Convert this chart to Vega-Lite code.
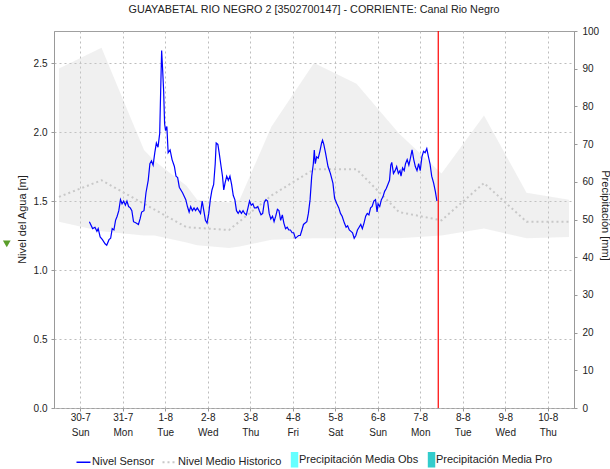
{
  "$schema": "https://vega.github.io/schema/vega-lite/v6.json",
  "width": 520,
  "height": 377,
  "autosize": {"type": "none"},
  "padding": {"left": 54, "top": 31, "right": 36, "bottom": 61},
  "background": "white",
  "config": {
    "view": {"stroke": "#a0a0a0", "strokeWidth": 1},
    "font": "Liberation Sans, Arial, sans-serif",
    "axis": {
      "labelFont": "Liberation Sans, Arial, sans-serif",
      "labelFontSize": 10,
      "labelColor": "#222222",
      "titleFont": "Liberation Sans, Arial, sans-serif",
      "titleFontSize": 11,
      "titleFontWeight": "normal",
      "titleColor": "#222222",
      "domainColor": "#999999",
      "tickColor": "#999999",
      "gridColor": "#bdbdbd",
      "gridDash": [2, 3]
    },
    "legend": {
      "orient": "none",
      "legendX": 24,
      "legendY": 423,
      "direction": "horizontal",
      "labelFont": "Liberation Sans, Arial, sans-serif",
      "labelFontSize": 11,
      "labelColor": "#222222",
      "symbolSize": 196,
      "columnPadding": 3,
      "labelOffset": 3
    }
  },
  "title": {
    "text": "GUAYABETAL RIO NEGRO 2 [3502700147] - CORRIENTE: Canal Rio Negro",
    "font": "Liberation Sans, Arial, sans-serif",
    "fontSize": 10.8,
    "fontWeight": "normal",
    "color": "#222222",
    "anchor": "middle",
    "frame": "group",
    "offset": 11
  },
  "datasets": {
    "banda": [
      {"t": "2017-07-29T12:00", "lo": 1.35, "hi": 2.46},
      {"t": "2017-07-30T12:00", "lo": 1.28, "hi": 2.61},
      {"t": "2017-07-31T12:00", "lo": 1.25, "hi": 1.87},
      {"t": "2017-07-31T18:00", "lo": 1.25, "hi": 1.79},
      {"t": "2017-08-01T12:00", "lo": 1.20, "hi": 1.61},
      {"t": "2017-08-01T18:00", "lo": 1.18, "hi": 1.51},
      {"t": "2017-08-02T12:00", "lo": 1.16, "hi": 1.49},
      {"t": "2017-08-02T18:00", "lo": 1.17, "hi": 1.51},
      {"t": "2017-08-03T12:00", "lo": 1.22, "hi": 2.04},
      {"t": "2017-08-04T12:00", "lo": 1.23, "hi": 2.50},
      {"t": "2017-08-05T12:00", "lo": 1.23, "hi": 2.35},
      {"t": "2017-08-06T12:00", "lo": 1.23, "hi": 1.99},
      {"t": "2017-08-07T12:00", "lo": 1.25, "hi": 1.70},
      {"t": "2017-08-08T12:00", "lo": 1.30, "hi": 2.12},
      {"t": "2017-08-09T12:00", "lo": 1.23, "hi": 1.56},
      {"t": "2017-08-10T12:00", "lo": 1.24, "hi": 1.51}
    ],
    "medio": [
      {"t": "2017-07-29T12:00", "v": 1.53},
      {"t": "2017-07-30T12:00", "v": 1.65},
      {"t": "2017-07-31T12:00", "v": 1.48},
      {"t": "2017-08-01T12:00", "v": 1.31},
      {"t": "2017-08-02T12:00", "v": 1.29},
      {"t": "2017-08-03T12:00", "v": 1.54},
      {"t": "2017-08-04T12:00", "v": 1.73},
      {"t": "2017-08-05T12:00", "v": 1.73},
      {"t": "2017-08-06T12:00", "v": 1.42},
      {"t": "2017-08-07T12:00", "v": 1.36},
      {"t": "2017-08-08T12:00", "v": 1.63},
      {"t": "2017-08-09T12:00", "v": 1.35},
      {"t": "2017-08-10T12:00", "v": 1.35}
    ],
    "sensor": [
      {"t": "2017-07-30T05:09", "v": 1.35}, {"t": "2017-07-30T07:00", "v": 1.30}, {"t": "2017-07-30T08:19", "v": 1.31}, {"t": "2017-07-30T09:25", "v": 1.28},
      {"t": "2017-07-30T10:08", "v": 1.30}, {"t": "2017-07-30T11:14", "v": 1.24}, {"t": "2017-07-30T12:31", "v": 1.22}, {"t": "2017-07-30T14:01", "v": 1.19},
      {"t": "2017-07-30T14:57", "v": 1.18}, {"t": "2017-07-30T16:14", "v": 1.22}, {"t": "2017-07-30T17:10", "v": 1.23}, {"t": "2017-07-30T18:03", "v": 1.30},
      {"t": "2017-07-30T19:00", "v": 1.29}, {"t": "2017-07-30T19:56", "v": 1.36}, {"t": "2017-07-30T20:50", "v": 1.39}, {"t": "2017-07-30T21:46", "v": 1.43},
      {"t": "2017-07-30T22:43", "v": 1.51}, {"t": "2017-07-30T23:36", "v": 1.48},
      {"t": "2017-07-31T00:32", "v": 1.50}, {"t": "2017-07-31T01:29", "v": 1.47}, {"t": "2017-07-31T02:22", "v": 1.50}, {"t": "2017-07-31T03:18", "v": 1.46},
      {"t": "2017-07-31T04:15", "v": 1.45}, {"t": "2017-07-31T05:08", "v": 1.43}, {"t": "2017-07-31T06:05", "v": 1.35}, {"t": "2017-07-31T07:34", "v": 1.34},
      {"t": "2017-07-31T08:51", "v": 1.33}, {"t": "2017-07-31T09:47", "v": 1.37}, {"t": "2017-07-31T10:40", "v": 1.42}, {"t": "2017-07-31T12:00", "v": 1.43},
      {"t": "2017-07-31T13:07", "v": 1.56}, {"t": "2017-07-31T14:23", "v": 1.65}, {"t": "2017-07-31T15:20", "v": 1.77}, {"t": "2017-07-31T16:13", "v": 1.79},
      {"t": "2017-07-31T17:09", "v": 1.76}, {"t": "2017-07-31T18:06", "v": 1.85}, {"t": "2017-07-31T18:59", "v": 1.92}, {"t": "2017-07-31T19:55", "v": 1.89},
      {"t": "2017-07-31T20:52", "v": 1.99}, {"t": "2017-07-31T21:25", "v": 2.30}, {"t": "2017-07-31T21:58", "v": 2.59}, {"t": "2017-07-31T22:32", "v": 2.45},
      {"t": "2017-07-31T23:05", "v": 2.30}, {"t": "2017-07-31T23:38", "v": 2.06},
      {"t": "2017-08-01T00:11", "v": 2.01}, {"t": "2017-08-01T00:55", "v": 2.04}, {"t": "2017-08-01T01:38", "v": 1.85}, {"t": "2017-08-01T02:44", "v": 1.87},
      {"t": "2017-08-01T03:51", "v": 1.80}, {"t": "2017-08-01T05:10", "v": 1.75}, {"t": "2017-08-01T06:04", "v": 1.68}, {"t": "2017-08-01T07:00", "v": 1.67},
      {"t": "2017-08-01T07:56", "v": 1.60}, {"t": "2017-08-01T09:46", "v": 1.56}, {"t": "2017-08-01T11:36", "v": 1.51}, {"t": "2017-08-01T12:32", "v": 1.46},
      {"t": "2017-08-01T13:29", "v": 1.42}, {"t": "2017-08-01T14:22", "v": 1.46}, {"t": "2017-08-01T15:19", "v": 1.43}, {"t": "2017-08-01T16:15", "v": 1.45},
      {"t": "2017-08-01T17:08", "v": 1.43}, {"t": "2017-08-01T18:05", "v": 1.45}, {"t": "2017-08-01T19:01", "v": 1.43}, {"t": "2017-08-01T19:55", "v": 1.41},
      {"t": "2017-08-01T20:51", "v": 1.50}, {"t": "2017-08-01T21:47", "v": 1.43}, {"t": "2017-08-01T22:41", "v": 1.36}, {"t": "2017-08-01T23:37", "v": 1.34},
      {"t": "2017-08-02T00:34", "v": 1.41}, {"t": "2017-08-02T01:27", "v": 1.51}, {"t": "2017-08-02T02:23", "v": 1.58}, {"t": "2017-08-02T03:20", "v": 1.62},
      {"t": "2017-08-02T04:13", "v": 1.77}, {"t": "2017-08-02T04:46", "v": 1.92}, {"t": "2017-08-02T05:43", "v": 1.91}, {"t": "2017-08-02T06:26", "v": 1.85},
      {"t": "2017-08-02T07:32", "v": 1.75}, {"t": "2017-08-02T08:19", "v": 1.68}, {"t": "2017-08-02T09:02", "v": 1.58}, {"t": "2017-08-02T09:46", "v": 1.63},
      {"t": "2017-08-02T10:42", "v": 1.68}, {"t": "2017-08-02T11:38", "v": 1.65}, {"t": "2017-08-02T12:32", "v": 1.68}, {"t": "2017-08-02T13:28", "v": 1.62},
      {"t": "2017-08-02T14:25", "v": 1.54}, {"t": "2017-08-02T15:18", "v": 1.51}, {"t": "2017-08-02T16:14", "v": 1.43}, {"t": "2017-08-02T17:11", "v": 1.41},
      {"t": "2017-08-02T18:04", "v": 1.43}, {"t": "2017-08-02T19:01", "v": 1.41}, {"t": "2017-08-02T19:57", "v": 1.43}, {"t": "2017-08-02T20:50", "v": 1.41},
      {"t": "2017-08-02T21:47", "v": 1.40}, {"t": "2017-08-02T22:43", "v": 1.45}, {"t": "2017-08-02T23:36", "v": 1.50},
      {"t": "2017-08-03T00:33", "v": 1.47}, {"t": "2017-08-03T01:29", "v": 1.48}, {"t": "2017-08-03T02:22", "v": 1.45}, {"t": "2017-08-03T03:19", "v": 1.45},
      {"t": "2017-08-03T04:16", "v": 1.46}, {"t": "2017-08-03T05:08", "v": 1.43}, {"t": "2017-08-03T06:05", "v": 1.40}, {"t": "2017-08-03T07:02", "v": 1.41},
      {"t": "2017-08-03T07:55", "v": 1.49}, {"t": "2017-08-03T08:52", "v": 1.51}, {"t": "2017-08-03T09:48", "v": 1.50}, {"t": "2017-08-03T10:41", "v": 1.41},
      {"t": "2017-08-03T11:37", "v": 1.37}, {"t": "2017-08-03T12:34", "v": 1.39}, {"t": "2017-08-03T13:27", "v": 1.35}, {"t": "2017-08-03T14:23", "v": 1.39},
      {"t": "2017-08-03T15:20", "v": 1.44}, {"t": "2017-08-03T16:13", "v": 1.43}, {"t": "2017-08-03T17:10", "v": 1.36}, {"t": "2017-08-03T18:07", "v": 1.40},
      {"t": "2017-08-03T18:59", "v": 1.34}, {"t": "2017-08-03T19:56", "v": 1.30}, {"t": "2017-08-03T20:52", "v": 1.31}, {"t": "2017-08-03T21:46", "v": 1.29},
      {"t": "2017-08-03T22:42", "v": 1.29}, {"t": "2017-08-03T23:38", "v": 1.27},
      {"t": "2017-08-04T00:32", "v": 1.27}, {"t": "2017-08-04T01:28", "v": 1.23}, {"t": "2017-08-04T02:25", "v": 1.24}, {"t": "2017-08-04T03:18", "v": 1.25},
      {"t": "2017-08-04T04:14", "v": 1.25}, {"t": "2017-08-04T05:11", "v": 1.29}, {"t": "2017-08-04T06:04", "v": 1.33}, {"t": "2017-08-04T07:01", "v": 1.34},
      {"t": "2017-08-04T07:57", "v": 1.35}, {"t": "2017-08-04T08:50", "v": 1.41}, {"t": "2017-08-04T09:47", "v": 1.51}, {"t": "2017-08-04T10:43", "v": 1.68},
      {"t": "2017-08-04T11:37", "v": 1.77}, {"t": "2017-08-04T12:10", "v": 1.87}, {"t": "2017-08-04T12:43", "v": 1.77}, {"t": "2017-08-04T13:29", "v": 1.82},
      {"t": "2017-08-04T14:23", "v": 1.81}, {"t": "2017-08-04T15:19", "v": 1.86}, {"t": "2017-08-04T16:16", "v": 1.92}, {"t": "2017-08-04T16:49", "v": 1.94},
      {"t": "2017-08-04T17:32", "v": 1.91}, {"t": "2017-08-04T18:29", "v": 1.85}, {"t": "2017-08-04T19:55", "v": 1.75}, {"t": "2017-08-04T21:15", "v": 1.70},
      {"t": "2017-08-04T22:41", "v": 1.63}, {"t": "2017-08-04T23:38", "v": 1.52},
      {"t": "2017-08-05T00:54", "v": 1.48}, {"t": "2017-08-05T02:01", "v": 1.45}, {"t": "2017-08-05T02:57", "v": 1.41}, {"t": "2017-08-05T03:53", "v": 1.39},
      {"t": "2017-08-05T05:10", "v": 1.34}, {"t": "2017-08-05T06:07", "v": 1.31}, {"t": "2017-08-05T06:59", "v": 1.32}, {"t": "2017-08-05T07:56", "v": 1.29},
      {"t": "2017-08-05T08:53", "v": 1.28}, {"t": "2017-08-05T09:46", "v": 1.27}, {"t": "2017-08-05T10:42", "v": 1.23}, {"t": "2017-08-05T11:38", "v": 1.25},
      {"t": "2017-08-05T12:32", "v": 1.29}, {"t": "2017-08-05T13:28", "v": 1.31}, {"t": "2017-08-05T14:25", "v": 1.33}, {"t": "2017-08-05T15:18", "v": 1.30},
      {"t": "2017-08-05T16:14", "v": 1.34}, {"t": "2017-08-05T17:11", "v": 1.39}, {"t": "2017-08-05T18:04", "v": 1.41}, {"t": "2017-08-05T19:01", "v": 1.40},
      {"t": "2017-08-05T19:57", "v": 1.45}, {"t": "2017-08-05T20:50", "v": 1.46}, {"t": "2017-08-05T21:47", "v": 1.50}, {"t": "2017-08-05T22:44", "v": 1.51},
      {"t": "2017-08-05T23:37", "v": 1.42},
      {"t": "2017-08-06T00:10", "v": 1.48}, {"t": "2017-08-06T01:07", "v": 1.46}, {"t": "2017-08-06T02:03", "v": 1.51}, {"t": "2017-08-06T02:56", "v": 1.53},
      {"t": "2017-08-06T03:53", "v": 1.57}, {"t": "2017-08-06T04:49", "v": 1.59}, {"t": "2017-08-06T05:43", "v": 1.62}, {"t": "2017-08-06T06:39", "v": 1.65},
      {"t": "2017-08-06T07:22", "v": 1.76}, {"t": "2017-08-06T07:55", "v": 1.78}, {"t": "2017-08-06T08:52", "v": 1.70}, {"t": "2017-08-06T09:48", "v": 1.72},
      {"t": "2017-08-06T10:41", "v": 1.75}, {"t": "2017-08-06T11:38", "v": 1.70}, {"t": "2017-08-06T12:34", "v": 1.72}, {"t": "2017-08-06T13:08", "v": 1.68},
      {"t": "2017-08-06T14:01", "v": 1.74}, {"t": "2017-08-06T14:57", "v": 1.72}, {"t": "2017-08-06T15:41", "v": 1.77}, {"t": "2017-08-06T16:37", "v": 1.80},
      {"t": "2017-08-06T17:34", "v": 1.76}, {"t": "2017-08-06T18:27", "v": 1.81}, {"t": "2017-08-06T19:23", "v": 1.87}, {"t": "2017-08-06T20:20", "v": 1.80},
      {"t": "2017-08-06T21:13", "v": 1.75}, {"t": "2017-08-06T22:10", "v": 1.72}, {"t": "2017-08-06T23:06", "v": 1.77}, {"t": "2017-08-06T23:59", "v": 1.72},
      {"t": "2017-08-07T00:56", "v": 1.82}, {"t": "2017-08-07T01:52", "v": 1.86}, {"t": "2017-08-07T02:45", "v": 1.85}, {"t": "2017-08-07T03:42", "v": 1.88},
      {"t": "2017-08-07T04:38", "v": 1.82}, {"t": "2017-08-07T05:31", "v": 1.77}, {"t": "2017-08-07T06:28", "v": 1.68}, {"t": "2017-08-07T07:34", "v": 1.63},
      {"t": "2017-08-07T08:31", "v": 1.57}, {"t": "2017-08-07T09:24", "v": 1.50}
    ],
    "precip": [
      {"t": "2017-07-30T12:00", "mm": 0, "serie": "Precipitación Media Obs"},
      {"t": "2017-07-31T12:00", "mm": 0, "serie": "Precipitación Media Obs"},
      {"t": "2017-08-01T12:00", "mm": 0, "serie": "Precipitación Media Obs"},
      {"t": "2017-08-02T12:00", "mm": 0, "serie": "Precipitación Media Obs"},
      {"t": "2017-08-03T12:00", "mm": 0, "serie": "Precipitación Media Obs"},
      {"t": "2017-08-04T12:00", "mm": 0, "serie": "Precipitación Media Obs"},
      {"t": "2017-08-05T12:00", "mm": 0, "serie": "Precipitación Media Obs"},
      {"t": "2017-08-06T12:00", "mm": 0, "serie": "Precipitación Media Obs"},
      {"t": "2017-08-07T12:00", "mm": 0, "serie": "Precipitación Media Obs"},
      {"t": "2017-08-08T12:00", "mm": 0, "serie": "Precipitación Media Pro"},
      {"t": "2017-08-09T12:00", "mm": 0, "serie": "Precipitación Media Pro"},
      {"t": "2017-08-10T12:00", "mm": 0, "serie": "Precipitación Media Pro"}
    ],
    "ahora": [{"t": "2017-08-07T10:10"}],
    "marcador": [{"t": "2017-07-28T06:30", "v": 1.19}]
  },
  "layer": [
    {
      "layer": [
        {
          "data": {"name": "banda"},
          "mark": {"type": "area", "color": "#cccccc", "opacity": 0.3},
          "encoding": {
            "x": {
              "field": "t", "type": "temporal", "title": null,
              "scale": {"domain": [{"year": 2017, "month": 7, "date": 29, "hours": 12}, {"year": 2017, "month": 8, "date": 10, "hours": 12}]},
              "axis": {
                "values": [
                  {"year": 2017, "month": 7, "date": 30}, {"year": 2017, "month": 7, "date": 31},
                  {"year": 2017, "month": 8, "date": 1}, {"year": 2017, "month": 8, "date": 2},
                  {"year": 2017, "month": 8, "date": 3}, {"year": 2017, "month": 8, "date": 4},
                  {"year": 2017, "month": 8, "date": 5}, {"year": 2017, "month": 8, "date": 6},
                  {"year": 2017, "month": 8, "date": 7}, {"year": 2017, "month": 8, "date": 8},
                  {"year": 2017, "month": 8, "date": 9}, {"year": 2017, "month": 8, "date": 10}
                ],
                "labelExpr": "[timeFormat(datum.value, '%-d-%-m'), timeFormat(datum.value, '%a')]",
                "grid": true,
                "domain": false,
                "tickSize": 3,
                "labelPadding": 1,
                "labelLineHeight": 15,
                "labelFlush": false,
                "labelOverlap": false
              }
            },
            "y": {
              "field": "lo", "type": "quantitative", "title": "Nivel del Agua [m]",
              "scale": {"domain": [0, 2.732], "nice": false, "zero": false},
              "axis": {
                "values": [0, 0.5, 1, 1.5, 2, 2.5],
                "format": ".1f",
                "grid": true,
                "tickSize": 3,
                "labelPadding": 4,
                "titleX": -32,
                "titleY": 188,
                "titleAngle": -90,
                "titleAlign": "center",
                "titleBaseline": "middle"
              }
            },
            "y2": {"field": "hi"}
          }
        },
        {
          "data": {"name": "medio"},
          "mark": {"type": "line", "strokeWidth": 2, "strokeDash": [2, 3]},
          "encoding": {
            "x": {"field": "t", "type": "temporal", "title": null},
            "y": {"field": "v", "type": "quantitative", "title": "Nivel del Agua [m]"},
            "color": {"datum": "Nivel Medio Historico", "type": "nominal", "title": null}
          }
        },
        {
          "data": {"name": "sensor"},
          "mark": {"type": "line", "strokeWidth": 1.2},
          "encoding": {
            "x": {"field": "t", "type": "temporal", "title": null},
            "y": {"field": "v", "type": "quantitative", "title": "Nivel del Agua [m]"},
            "color": {
              "datum": "Nivel Sensor", "type": "nominal", "title": null,
              "scale": {
                "domain": ["Nivel Sensor", "Nivel Medio Historico", "Precipitación Media Obs", "Precipitación Media Pro"],
                "range": ["#0000ff", "#c8c8c8", "#66ffff", "#33cccc"]
              },
              "legend": {
                "title": null,
                "encode": {
                  "symbols": {
                    "update": {
                      "shape": {"signal": "datum.value === 'Nivel Sensor' || datum.value === 'Nivel Medio Historico' ? 'stroke' : 'M0.15,-1H1V1H0.15Z'"},
                      "fill": {"signal": "datum.value === 'Precipitación Media Obs' ? '#66ffff' : datum.value === 'Precipitación Media Pro' ? '#33cccc' : 'transparent'"},
                      "stroke": {"signal": "datum.value === 'Nivel Sensor' ? '#0000ff' : datum.value === 'Nivel Medio Historico' ? '#c8c8c8' : 'transparent'"},
                      "strokeDash": {"signal": "datum.value === 'Nivel Medio Historico' ? [2, 3] : null"},
                      "strokeWidth": {"signal": "datum.value === 'Nivel Medio Historico' ? 2 : 1.5"},
                      "opacity": {"value": 1},
                      "fillOpacity": {"value": 1},
                      "strokeOpacity": {"value": 1}
                    }
                  }
                }
              }
            }
          }
        },
        {
          "data": {"name": "ahora"},
          "mark": {"type": "rule", "color": "#ff0000", "strokeWidth": 1.2},
          "encoding": {"x": {"field": "t", "type": "temporal", "title": null}}
        },
        {
          "data": {"name": "marcador"},
          "mark": {"type": "point", "shape": "triangle-down", "filled": true, "color": "#5a9e2a", "size": 60, "opacity": 1, "clip": false},
          "encoding": {
            "x": {"field": "t", "type": "temporal", "title": null},
            "y": {"field": "v", "type": "quantitative", "title": "Nivel del Agua [m]"}
          }
        }
      ]
    },
    {
      "data": {"name": "precip"},
      "mark": {"type": "bar", "width": 6},
      "encoding": {
        "x": {"field": "t", "type": "temporal", "title": null},
        "y": {
          "field": "mm", "type": "quantitative", "title": "Precipitación [mm]",
          "scale": {"domain": [0, 100], "nice": false},
          "axis": {
            "orient": "right",
            "values": [0, 10, 20, 30, 40, 50, 60, 70, 80, 90, 100],
            "grid": false,
            "tickSize": 3,
            "labelPadding": 5,
            "titleX": 30,
            "titleY": 184,
            "titleAngle": 90,
            "titleAlign": "center",
            "titleBaseline": "middle"
          }
        },
        "color": {
          "field": "serie", "type": "nominal", "title": null,
          "legend": {
            "title": null,
            "encode": {
              "symbols": {
                "update": {
                  "shape": {"signal": "datum.value === 'Nivel Sensor' || datum.value === 'Nivel Medio Historico' ? 'stroke' : 'M0.15,-1H1V1H0.15Z'"},
                  "fill": {"signal": "datum.value === 'Precipitación Media Obs' ? '#66ffff' : datum.value === 'Precipitación Media Pro' ? '#33cccc' : 'transparent'"},
                  "stroke": {"signal": "datum.value === 'Nivel Sensor' ? '#0000ff' : datum.value === 'Nivel Medio Historico' ? '#c8c8c8' : 'transparent'"},
                  "strokeDash": {"signal": "datum.value === 'Nivel Medio Historico' ? [2, 3] : null"},
                  "strokeWidth": {"signal": "datum.value === 'Nivel Medio Historico' ? 2 : 1.5"},
                  "opacity": {"value": 1},
                  "fillOpacity": {"value": 1},
                  "strokeOpacity": {"value": 1}
                }
              }
            }
          }
        }
      }
    }
  ],
  "resolve": {"scale": {"y": "independent"}}
}
